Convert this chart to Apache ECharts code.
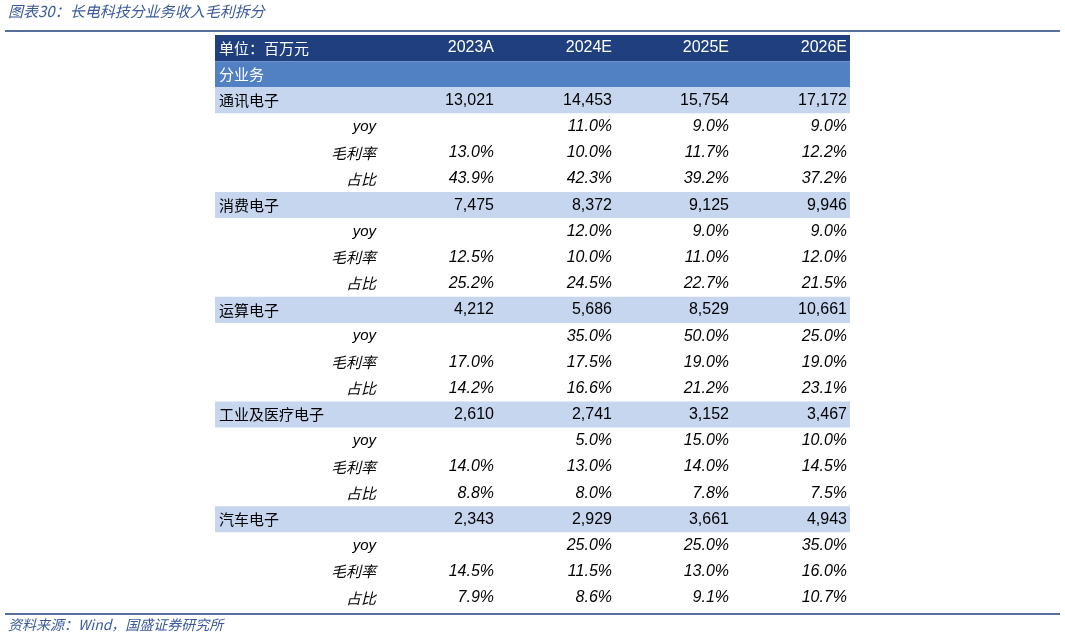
<!DOCTYPE html>
<html>
<head>
<meta charset="utf-8">
<script src="https://cdn.jsdelivr.net/npm/echarts@6/dist/echarts.min.js"></script>
<style>html,body{margin:0;background:#fff}#main{width:1065px;height:640px}</style>
</head>
<body>
<div id="main"></div>
<script>
var years = ['2023A', '2024E', '2025E', '2026E'];
var segments = ['通讯电子', '消费电子', '运算电子', '工业及医疗电子', '汽车电子'];
var revenue = [[13021, 14453, 15754, 17172], [7475, 8372, 9125, 9946], [4212, 5686, 8529, 10661], [2610, 2741, 3152, 3467], [2343, 2929, 3661, 4943]];
var yoy = [[null, 11.0, 9.0, 9.0], [null, 12.0, 9.0, 9.0], [null, 35.0, 50.0, 25.0], [null, 5.0, 15.0, 10.0], [null, 25.0, 25.0, 35.0]];
var margin = [[13.0, 10.0, 11.7, 12.2], [12.5, 10.0, 11.0, 12.0], [17.0, 17.5, 19.0, 19.0], [14.0, 13.0, 14.0, 14.5], [14.5, 11.5, 13.0, 16.0]];
var share = [[43.9, 42.3, 39.2, 37.2], [25.2, 24.5, 22.7, 21.5], [14.2, 16.6, 21.2, 23.1], [8.8, 8.0, 7.8, 7.5], [7.9, 8.6, 9.1, 10.7]];
var subLabels = ['yoy', '毛利率', '占比'];

var colEdges = [0, 165, 282, 400, 517, 635];
var cjk = '"Noto Sans CJK SC", sans-serif';
var num = '"Liberation Sans", Arial, sans-serif';

function pct(v) { return v == null ? '' : v.toFixed(1) + '%'; }
function fmt(v) { return v.toLocaleString('en-US'); }

// build rows
var rows = [];
rows.push({ kind: 'head', label: '单位：百万元', cells: years });
rows.push({ kind: 'group', label: '分业务', cells: ['', '', '', ''] });
segments.forEach(function (s, i) {
	rows.push({ kind: 'seg', label: s, cells: revenue[i].map(fmt) });
	rows.push({ kind: 'sub', label: subLabels[0], cells: yoy[i].map(pct) });
	rows.push({ kind: 'sub', label: subLabels[1], cells: margin[i].map(pct) });
	rows.push({ kind: 'sub', label: subLabels[2], cells: share[i].map(pct) });
});

var bg = { head: '#1f3f7f', group: '#5181c2', seg: '#c6d6ef', sub: '#ffffff' };

function renderItem(params, api) {
	var r = rows[api.value(0)];
	var i = api.value(0);
	var p0 = api.coord([0, i]);
	var p1 = api.coord([635, i + 1]);
	var h = p1[1] - p0[1];
	var cy = p0[1] + h / 2;
	var white = r.kind === 'head' || r.kind === 'group';
	var color = white ? '#ffffff' : '#000000';
	var italic = r.kind === 'sub' ? 'italic' : 'normal';
	var children = [{
		type: 'rect',
		shape: { x: p0[0], y: p0[1], width: p1[0] - p0[0], height: h },
		style: { fill: bg[r.kind] }
	}];
	var lx = r.kind === 'sub' ? api.coord([colEdges[1] - 4, i])[0] : p0[0] + 4;
	children.push({
		type: 'text',
		style: {
			x: lx, y: cy, text: r.label, fill: color,
			align: r.kind === 'sub' ? 'right' : 'left', verticalAlign: 'middle',
			font: italic + ' 15px ' + (r.label === 'yoy' ? num : cjk)
		}
	});
	r.cells.forEach(function (c, k) {
		var x = api.coord([colEdges[k + 2] - 3, i])[0];
		children.push({
			type: 'text',
			style: {
				x: x, y: cy, text: c, fill: color, align: 'right', verticalAlign: 'middle',
				font: italic + ' 16px ' + num
			}
		});
	});
	return { type: 'group', children: children };
}

var chart = echarts.init(document.getElementById('main'));
chart.setOption({
	animation: false,
	grid: { left: 215, right: 215, top: 35, bottom: 29 },
	xAxis: { type: 'value', min: 0, max: 635, show: false },
	yAxis: { type: 'value', min: 0, max: rows.length, inverse: true, show: false },
	graphic: [
		{ type: 'text', left: 8, top: 4, style: { text: '图表30：长电科技分业务收入毛利拆分', fill: '#3a5a9a', font: 'italic 15px ' + cjk } },
		{ type: 'line', shape: { x1: 5, y1: 31, x2: 1060, y2: 31 }, style: { stroke: '#1f3f7f', lineWidth: 1.5 } },
		{ type: 'line', shape: { x1: 5, y1: 614, x2: 1060, y2: 614 }, style: { stroke: '#1f3f7f', lineWidth: 1.5 } },
		{ type: 'text', left: 8, top: 618, style: { text: '资料来源：Wind，国盛证券研究所', fill: '#3a5a9a', font: 'italic 14px ' + cjk } }
	],
	series: [{
		type: 'custom',
		renderItem: renderItem,
		data: rows.map(function (r, i) { return [i]; })
	}]
});
</script>
</body>
</html>
